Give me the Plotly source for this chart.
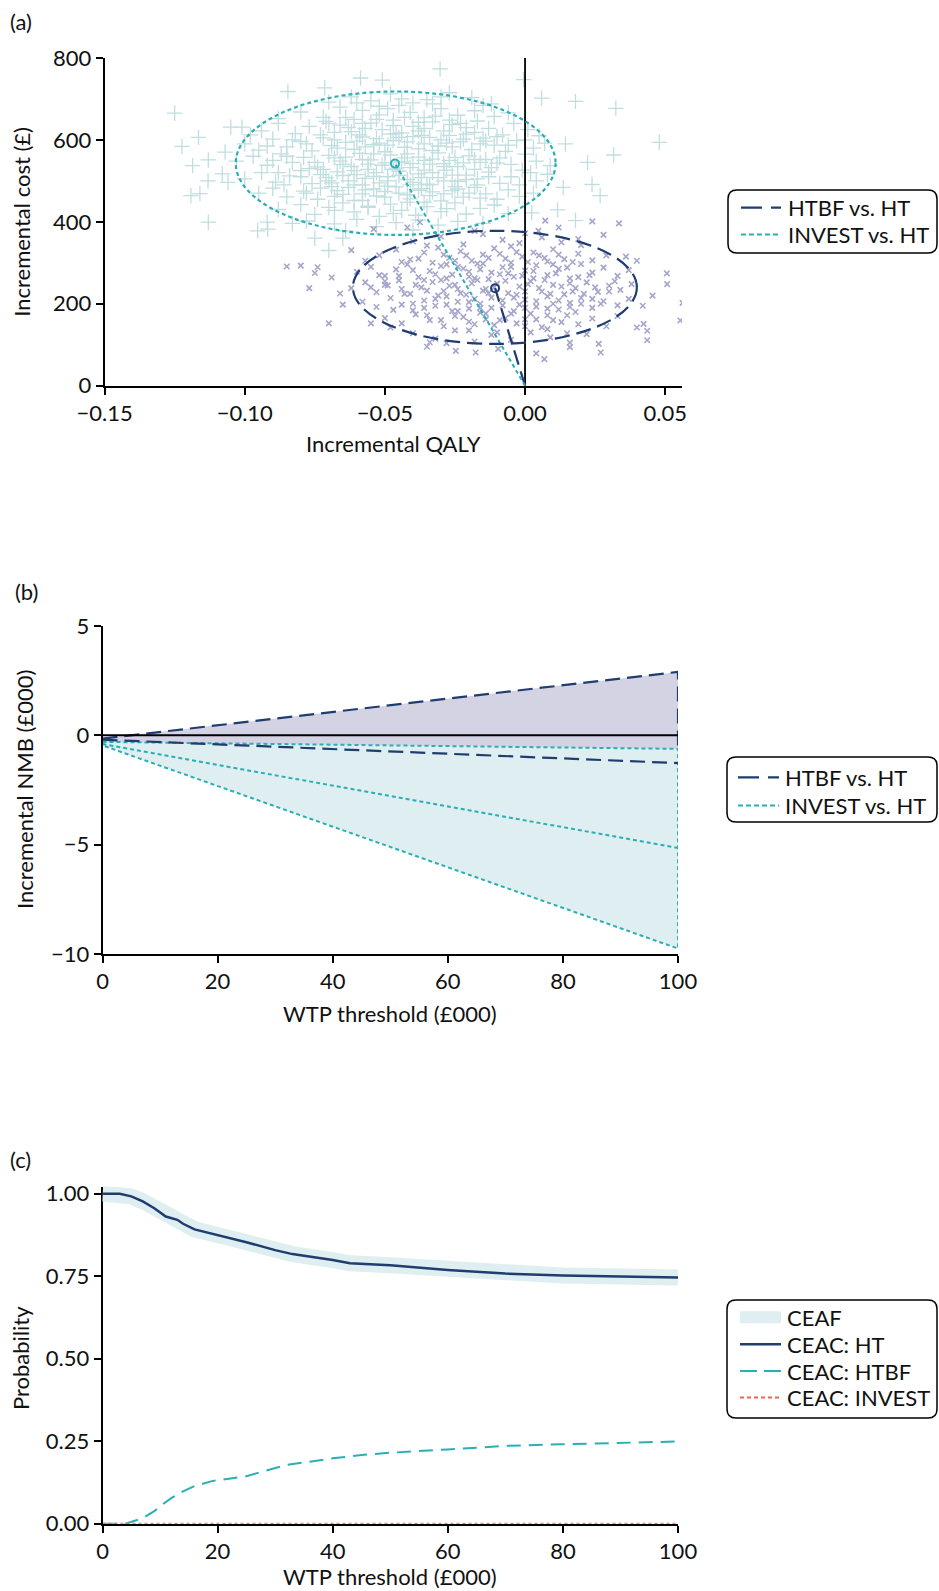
import plotly.graph_objects as go

W, H = 939, 1591
NAVY = "#1f3d6f"
TEAL = "#2aafb4"
LAV_PT = "#a6a6cc"
TEAL_PT = "#c0dee0"
LAV_FILL = "#d4d3e3"
TEAL_FILL = "#dfeef0"
RED = "#ec6552"
FONT = "Lato"

# ---------------- Panel (a) data: cost-effectiveness plane ----------------
invest_q = [-0.125,-0.1224,-0.1165,-0.1186,-0.1192,-0.116,-0.113,-0.113,-0.1131,-0.108,-0.106,-0.107,-0.105,-0.101,-0.0954,-0.0918,-0.092,-0.0846,-0.0715,-0.0587,-0.0509,-0.0303,-0.0005,0.0059,0.018,0.0324,0.0479,0.0316,0.0223,0.0239,0.0268,0.0116,0.0024,0.018,0.0136,0.0144,-0.075,-0.070,-0.065,-0.083,
 -0.062,-0.048,-0.035,-0.027,-0.055,-0.040,-0.019,-0.070,-0.012,
 -0.080,-0.072,-0.066,-0.058,-0.052,-0.045,-0.041,-0.036,-0.030,-0.024,-0.018,-0.011,-0.006,-0.088,-0.061,-0.049,-0.033,-0.015,
 -0.094,-0.088,-0.082,-0.077,-0.071,-0.068,-0.063,-0.059,-0.055,-0.051,-0.047,-0.044,-0.040,-0.037,-0.033,-0.029,-0.026,-0.021,-0.017,-0.013,-0.008,-0.004,0.001,-0.098,-0.057,-0.036,-0.023,-0.066,-0.048,
 -0.100,-0.095,-0.090,-0.085,-0.080,-0.076,-0.072,-0.069,-0.064,-0.061,-0.058,-0.054,-0.050,-0.047,-0.043,-0.040,-0.036,-0.033,-0.030,-0.026,-0.023,-0.019,-0.015,-0.011,-0.007,-0.003,0.003,0.007,-0.052,-0.038,-0.028,-0.045,-0.060,-0.067,-0.016,
 -0.103,-0.097,-0.092,-0.087,-0.083,-0.079,-0.074,-0.070,-0.066,-0.062,-0.059,-0.055,-0.051,-0.048,-0.044,-0.041,-0.038,-0.034,-0.031,-0.027,-0.024,-0.020,-0.016,-0.012,-0.009,-0.005,0.000,0.004,0.009,-0.056,-0.046,-0.036,-0.029,-0.064,-0.018,-0.042,
 -0.100,-0.094,-0.089,-0.084,-0.080,-0.076,-0.071,-0.067,-0.063,-0.060,-0.056,-0.052,-0.049,-0.045,-0.042,-0.038,-0.035,-0.031,-0.028,-0.024,-0.021,-0.017,-0.013,-0.009,-0.005,-0.001,0.004,0.008,-0.054,-0.040,-0.026,-0.070,-0.058,
 -0.095,-0.090,-0.085,-0.079,-0.074,-0.069,-0.065,-0.061,-0.057,-0.053,-0.049,-0.045,-0.041,-0.037,-0.034,-0.030,-0.026,-0.022,-0.018,-0.014,-0.010,-0.006,-0.002,0.003,-0.050,-0.033,-0.067,
 -0.088,-0.080,-0.075,-0.070,-0.065,-0.061,-0.056,-0.052,-0.048,-0.044,-0.039,-0.035,-0.030,-0.025,-0.021,-0.016,-0.011,-0.006,-0.058,-0.042,
 -0.078,-0.068,-0.060,-0.053,-0.046,-0.038,-0.031,-0.024,-0.015,-0.064,-0.040,
 -0.083,-0.078,-0.073,-0.068,-0.062,-0.057,-0.053,-0.049,-0.046,-0.042,-0.038,-0.034,-0.031,-0.027,-0.022,-0.018,-0.014,-0.010,-0.006,
 -0.075,-0.072,-0.068,-0.065,-0.061,-0.058,-0.054,-0.050,-0.047,-0.043,-0.040,-0.036,-0.033,-0.029,-0.025,-0.022,-0.018,-0.014,-0.010,
 -0.080,-0.077,-0.073,-0.069,-0.065,-0.061,-0.057,-0.053,-0.049,-0.045,-0.041,-0.037,-0.033,-0.029,-0.025,-0.021,-0.017,-0.013,
 -0.078,-0.073,-0.068,-0.063,-0.058,-0.054,-0.050,-0.046,-0.042,-0.038,-0.034,-0.029,-0.024,-0.020,-0.016,
 -0.070,-0.064,-0.058,-0.053,-0.047,-0.043,-0.038,-0.032,-0.027,-0.021,
 -0.085,-0.090,-0.088,-0.092,-0.086,0.000,0.002,-0.002,0.005,-0.056,-0.047,-0.036,-0.028,-0.068,-0.060,-0.044,-0.030,-0.052]
invest_c = [665,584,606,537,464,469,399,551,500,517,496,570,631,631,378,382,399,718,727,751,746,773,747,702,694,677,594,563,545,491,464,429,422,403,484,590,360,330,360,396,
 705,712,698,715,695,690,703,692,688,
 668,655,680,672,661,684,667,654,676,660,671,657,666,652,650,676,688,684,
 622,640,615,633,645,618,630,612,641,625,648,617,633,611,644,622,637,614,646,628,612,640,625,612,628,628,640,636,614,
 590,575,602,583,596,573,605,586,594,577,607,588,571,598,582,608,590,574,600,583,595,576,604,587,572,598,580,592,592,578,592,606,597,580,590,
 548,560,538,566,545,557,534,562,548,535,567,551,538,563,546,532,558,541,568,550,535,561,545,532,556,540,565,548,537,541,531,550,542,558,552,566,
 505,520,497,512,525,493,508,522,500,515,528,495,510,524,503,517,492,508,526,499,514,505,521,494,510,526,500,516,511,496,514,500,490,
 470,482,461,475,455,486,467,452,478,463,487,470,456,481,464,451,476,460,484,468,455,478,462,470,460,473,476,
 430,442,418,435,446,424,438,413,443,428,416,437,425,446,419,433,441,420,452,448,
 402,395,406,388,398,404,392,401,396,378,380,
 600,590,612,600,620,583,603,587,615,595,622,606,585,611,602,618,597,608,587,
 545,528,556,540,525,552,566,544,528,556,542,526,553,535,557,544,528,552,543,
 510,530,515,495,513,490,506,520,500,513,490,508,520,500,486,503,490,510,
 470,482,462,484,468,480,474,485,466,477,490,468,480,470,458,
 640,655,640,650,635,655,643,658,648,630,
 560,550,520,585,490,600,520,490,610,435,420,448,432,428,690,700,705,682]

htbf_q = [-0.085,-0.080,-0.077,-0.075,-0.074,-0.070,-0.069,-0.065,-0.066,-0.062,-0.055,-0.050,-0.048,-0.035,-0.034,-0.0247,-0.0176,-0.0096,0.004,0.0069,0.016,0.027,0.0263,0.0399,0.0423,0.0436,0.0436,0.0455,0.042,0.0506,0.0507,0.0562,0.0554,0.0399,0.036,0.0335,0.024,0.028,0.019,0.012,0.0072,0.0048,-0.0375,-0.042,-0.054,
 -0.040,-0.030,-0.022,-0.015,-0.008,-0.002,0.006,0.013,-0.035,0.020,-0.018,0.000,
 -0.052,-0.046,-0.041,-0.036,-0.031,-0.027,-0.023,-0.019,-0.015,-0.011,-0.007,-0.003,0.001,0.005,0.010,0.014,0.019,0.024,0.029,-0.057,-0.044,-0.005,0.008,
 -0.060,-0.055,-0.050,-0.046,-0.042,-0.038,-0.034,-0.030,-0.026,-0.022,-0.018,-0.015,-0.012,-0.008,-0.004,0.000,0.004,0.008,0.012,0.016,0.020,0.024,0.028,0.033,0.037,-0.020,-0.006,0.003,-0.028,0.010,
 -0.062,-0.057,-0.053,-0.049,-0.045,-0.041,-0.037,-0.033,-0.029,-0.025,-0.021,-0.017,-0.014,-0.010,-0.006,-0.002,0.002,0.006,0.010,0.014,0.018,0.022,0.026,0.030,0.034,0.038,-0.024,-0.013,0.000,0.016,-0.044,-0.030,
 -0.058,-0.053,-0.048,-0.044,-0.040,-0.036,-0.032,-0.028,-0.024,-0.020,-0.016,-0.012,-0.008,-0.004,0.000,0.004,0.008,0.012,0.016,0.020,0.024,0.028,0.033,0.037,-0.018,-0.002,0.010,
 -0.050,-0.044,-0.039,-0.034,-0.029,-0.025,-0.020,-0.016,-0.011,-0.007,-0.003,0.002,0.006,0.010,0.015,0.019,0.024,0.029,0.033,-0.014,0.000,
 -0.040,-0.032,-0.025,-0.018,-0.012,-0.005,0.002,0.009,0.016,0.022,0.008,-0.028,
 -0.045,-0.040,-0.036,-0.032,-0.028,-0.024,-0.020,-0.016,-0.013,-0.009,-0.005,-0.001,0.003,0.007,0.011,0.015,0.019,0.023,
 -0.043,-0.039,-0.035,-0.031,-0.027,-0.023,-0.019,-0.015,-0.011,-0.007,-0.003,0.001,0.005,0.009,0.013,0.017,0.021,0.025,
 -0.040,-0.036,-0.032,-0.028,-0.024,-0.020,-0.016,-0.012,-0.008,-0.004,0.000,0.004,0.008,0.012,0.016,0.020,0.024,
 -0.035,-0.030,-0.026,-0.022,-0.018,-0.014,-0.009,-0.005,0.000,0.004,0.008,0.013,0.018,
 -0.038,-0.033,-0.029,-0.025,-0.021,-0.017,-0.013,-0.009,-0.005,-0.001,0.003,0.007,0.012,0.017,
 -0.050,-0.055,-0.052,0.030,0.032,0.027,-0.047,-0.010,0.015,-0.020]
htbf_c = [291,293,238,275,289,152,264,198,225,331,152,246,142,95,106,85,81,90,79,65,94,81,102,142,151,134,111,220,195,274,248,202,159,305,315,396,401,368,358,386,403,378,399,386,382,
 352,364,345,370,356,348,362,350,342,343,378,372,
 318,332,308,325,337,312,328,305,320,335,310,326,302,318,333,309,322,306,318,305,302,340,303,
 278,290,268,284,296,265,280,292,271,286,262,298,276,289,266,281,294,270,285,262,297,276,288,268,282,278,274,262,296,296,
 238,252,228,245,257,224,240,253,231,246,222,258,236,249,226,242,255,230,246,223,238,252,229,244,234,248,236,226,230,250,236,258,
 205,192,214,198,184,208,195,218,182,204,190,215,196,182,210,193,218,186,202,214,190,206,196,212,212,198,200,
 165,152,174,160,145,170,156,178,148,165,152,176,143,160,172,150,164,145,170,162,162,
 128,115,135,108,124,112,130,118,105,126,138,104,
 268,282,258,272,262,290,266,284,260,272,290,268,280,258,274,288,265,270,
 224,246,232,220,244,226,250,232,240,256,222,248,238,224,242,230,224,240,
 200,190,212,198,205,188,200,190,208,215,190,206,188,208,192,200,212,
 172,160,182,168,150,176,160,176,145,162,172,155,180,
 310,300,320,305,318,298,312,322,300,315,325,312,320,302,
 255,240,270,230,255,200,185,130,128,135]

# means and 95% ellipses (QALY, cost)
invest_mean = (-0.0464, 542)
htbf_mean = (-0.0107, 238)
invest_ellipse = (-0.1032, 0.0109, 368, 718)   # x0, x1, y0, y1
htbf_ellipse = (-0.0614, 0.0399, 102, 378)

# ---------------- Panel (b) data: incremental NMB ----------------
wtp_b = [0, 100]
htbf_nmb_upper = [-0.15, 2.9]
htbf_nmb_lower = [-0.35, -5.0]
htbf_nmb_mean = [-0.2, -1.27]
invest_nmb_upper = [-0.3, -0.62]
invest_nmb_lower = [-0.46, -9.75]
invest_nmb_mean = [-0.4, -5.15]

# ---------------- Panel (c) data: CEAC / CEAF ----------------
wtp_c = [0, 3, 5, 7, 9, 10, 11, 13, 14, 16, 20, 25, 30, 33, 40, 43, 50, 60, 70, 80, 90, 100]
ceac_ht = [1.0, 1.0, 0.992, 0.977, 0.956, 0.943, 0.931, 0.921, 0.909, 0.892, 0.875, 0.853, 0.829, 0.817, 0.799, 0.789, 0.783, 0.769, 0.758, 0.752, 0.749, 0.746]
ceaf = [1.0, 1.0, 0.992, 0.977, 0.956, 0.943, 0.931, 0.921, 0.909, 0.892, 0.875, 0.853, 0.829, 0.817, 0.799, 0.789, 0.783, 0.769, 0.758, 0.752, 0.749, 0.746]
wtp_htbf = [0, 4, 7, 9, 10, 12, 14, 16, 19, 22, 25, 28, 32, 36, 40, 45, 50, 60, 70, 80, 90, 100]
ceac_htbf = [0.0, 0.0, 0.017, 0.038, 0.053, 0.078, 0.098, 0.114, 0.129, 0.136, 0.144, 0.159, 0.178, 0.188, 0.198, 0.208, 0.215, 0.225, 0.236, 0.241, 0.244, 0.249]
wtp_invest = [0, 100]
ceac_invest = [0.0, 0.0]

legend_a_labels = ["HTBF vs. HT", "INVEST vs. HT"]
legend_b_labels = ["HTBF vs. HT", "INVEST vs. HT"]
legend_c_labels = ["CEAF", "CEAC: HT", "CEAC: HTBF", "CEAC: INVEST"]


def px_x(p):
    return p / W


def px_y(p):
    return 1 - p / H


DASH_LONG = "15px,7px"
DASH_DOT = "4px,3px"

fig = go.Figure()

# ---- Panel (a)
fig.add_trace(go.Scatter(x=invest_q, y=invest_c, mode="markers", xaxis="x", yaxis="y",
                         marker=dict(symbol="cross-thin", size=11, line=dict(color=TEAL_PT, width=1.3)),
                         showlegend=False, hoverinfo="skip"))
fig.add_trace(go.Scatter(x=htbf_q, y=htbf_c, mode="markers", xaxis="x", yaxis="y",
                         marker=dict(symbol="x-thin", size=5.5, line=dict(color=LAV_PT, width=1.6)),
                         showlegend=False, hoverinfo="skip"))
fig.add_trace(go.Scatter(x=[0, 0], y=[0, 800], mode="lines", xaxis="x", yaxis="y",
                         line=dict(color="black", width=1.8), showlegend=False, hoverinfo="skip"))
fig.add_trace(go.Scatter(x=[0, htbf_mean[0]], y=[0, htbf_mean[1]], mode="lines", xaxis="x", yaxis="y",
                         line=dict(color=NAVY, width=2.2, dash=DASH_LONG), showlegend=False, hoverinfo="skip"))
fig.add_trace(go.Scatter(x=[0, invest_mean[0]], y=[0, invest_mean[1]], mode="lines", xaxis="x", yaxis="y",
                         line=dict(color=TEAL, width=2, dash=DASH_DOT), showlegend=False, hoverinfo="skip"))
fig.add_trace(go.Scatter(x=[htbf_mean[0], invest_mean[0]], y=[htbf_mean[1], invest_mean[1]], mode="markers",
                         xaxis="x", yaxis="y",
                         marker=dict(symbol="circle-open", size=8, color=[NAVY, TEAL], line=dict(width=2)),
                         showlegend=False, hoverinfo="skip"))

shapes = []
for (x0, x1, y0, y1), col, dash in [(invest_ellipse, TEAL, DASH_DOT), (htbf_ellipse, NAVY, DASH_LONG)]:
    shapes.append(dict(type="circle", xref="x", yref="y", x0=x0, x1=x1, y0=y0, y1=y1,
                       line=dict(color=col, width=2.2, dash=dash), layer="above"))

# ---- Panel (b)
fig.add_trace(go.Scatter(x=wtp_b + wtp_b[::-1], y=htbf_nmb_upper + htbf_nmb_lower[::-1],
                         mode="lines", fill="toself", fillcolor=LAV_FILL, xaxis="x2", yaxis="y2",
                         line=dict(color=NAVY, width=2.2, dash=DASH_LONG), showlegend=False, hoverinfo="skip"))
fig.add_trace(go.Scatter(x=wtp_b + wtp_b[::-1], y=invest_nmb_upper + invest_nmb_lower[::-1],
                         mode="lines", fill="toself", fillcolor=TEAL_FILL, xaxis="x2", yaxis="y2",
                         line=dict(color=TEAL, width=2, dash=DASH_DOT), showlegend=False, hoverinfo="skip"))
fig.add_trace(go.Scatter(x=[0, 100], y=[0, 0], mode="lines", xaxis="x2", yaxis="y2",
                         line=dict(color="black", width=2), showlegend=False, hoverinfo="skip"))
fig.add_trace(go.Scatter(x=wtp_b, y=htbf_nmb_mean, mode="lines", xaxis="x2", yaxis="y2",
                         line=dict(color=NAVY, width=2.2, dash=DASH_LONG), showlegend=False, hoverinfo="skip"))
fig.add_trace(go.Scatter(x=wtp_b, y=invest_nmb_mean, mode="lines", xaxis="x2", yaxis="y2",
                         line=dict(color=TEAL, width=2, dash=DASH_DOT), showlegend=False, hoverinfo="skip"))

# ---- Panel (c)
fig.add_trace(go.Scatter(x=wtp_c, y=ceaf, mode="lines", xaxis="x3", yaxis="y3",
                         line=dict(color=TEAL_FILL, width=16), showlegend=False, hoverinfo="skip"))
fig.add_trace(go.Scatter(x=wtp_c, y=ceac_ht, mode="lines", xaxis="x3", yaxis="y3",
                         line=dict(color=NAVY, width=2.5), showlegend=False, hoverinfo="skip"))
fig.add_trace(go.Scatter(x=wtp_htbf, y=ceac_htbf, mode="lines", xaxis="x3", yaxis="y3",
                         line=dict(color=TEAL, width=2, dash="14px,8px"), showlegend=False, hoverinfo="skip"))
fig.add_trace(go.Scatter(x=wtp_invest, y=ceac_invest, mode="lines", xaxis="x3", yaxis="y3",
                         line=dict(color=RED, width=2, dash="3px,3px"), showlegend=False, hoverinfo="skip"))

TICKSIZE = 22
axis_common = dict(showline=True, linecolor="black", linewidth=1.8, ticks="outside", ticklen=7,
                   tickwidth=1.8, tickcolor="black", showgrid=False, zeroline=False,
                   tickfont=dict(family=FONT, size=TICKSIZE, color="#111"))

fig.update_layout(
    width=W, height=H, margin=dict(l=0, r=0, t=0, b=0, autoexpand=False),
    paper_bgcolor="white", plot_bgcolor="white", showlegend=False,
    font=dict(family=FONT, size=22, color="#111"),
    xaxis=dict(domain=[px_x(104.6), px_x(682)], range=[-0.15, 0.056],
               tickvals=[-0.15, -0.10, -0.05, 0.0, 0.05], tickformat=".2f", anchor="y", **axis_common),
    yaxis=dict(domain=[px_y(385.7), px_y(57.9)], range=[0, 800], tickvals=[0, 200, 400, 600, 800],
               anchor="x", **axis_common),
    xaxis2=dict(domain=[px_x(102.5), px_x(678)], range=[0, 100], tickvals=[0, 20, 40, 60, 80, 100],
                anchor="y2", **axis_common),
    yaxis2=dict(domain=[px_y(954), px_y(626)], range=[-10, 5], tickvals=[-10, -5, 0, 5],
                anchor="x2", **axis_common),
    xaxis3=dict(domain=[px_x(102.5), px_x(678)], range=[0, 100], tickvals=[0, 20, 40, 60, 80, 100],
                anchor="y3", layer="below traces", **axis_common),
    yaxis3=dict(domain=[px_y(1523.7), px_y(1186.5)], range=[0, 1.0 + 7.2 / 328.9],
                tickvals=[0, 0.25, 0.5, 0.75, 1.0], tickformat=".2f", anchor="x3", layer="below traces",
                **axis_common),
)


def rounded_box(x0, y0, x1, y1, r=9):
    rx, ry = r / W, r / H
    X0, X1 = px_x(x0), px_x(x1)
    Y0, Y1 = px_y(y0), px_y(y1)  # Y0 top, Y1 bottom
    return (f"M {X0+rx},{Y0} L {X1-rx},{Y0} Q {X1},{Y0} {X1},{Y0-ry} "
            f"L {X1},{Y1+ry} Q {X1},{Y1} {X1-rx},{Y1} L {X0+rx},{Y1} Q {X0},{Y1} {X0},{Y1+ry} "
            f"L {X0},{Y0-ry} Q {X0},{Y0} {X0+rx},{Y0} Z")


for box in [(728, 190, 937, 253), (727, 757, 937, 822), (727, 1300, 937, 1418)]:
    shapes.append(dict(type="path", xref="paper", yref="paper", path=rounded_box(*box),
                       line=dict(color="black", width=1.5), layer="above"))

ann = []
def text(x, y, s, size=22, angle=0, xanchor="center"):
    ann.append(dict(x=px_x(x), y=px_y(y), xref="paper", yref="paper", text=s, showarrow=False,
                    textangle=angle, xanchor=xanchor, yanchor="middle",
                    font=dict(family=FONT, size=size, color="#111")))


# ---- manual legends (sample line + label)
def legend_line(x0, x1, y, color, width, dash):
    shapes.append(dict(type="line", xref="paper", yref="paper", x0=px_x(x0), x1=px_x(x1),
                       y0=px_y(y), y1=px_y(y), line=dict(color=color, width=width, dash=dash)))


leg_a_rows = [207.7, 234.5]
legend_line(741, 781, leg_a_rows[0], NAVY, 2.2, "21px,9px")
legend_line(741, 781, leg_a_rows[1], TEAL, 2, "5px,3px")
for lab, yy in zip(legend_a_labels, leg_a_rows):
    text(786, yy, lab, 22, xanchor="left")

leg_b_rows = [777.3, 805.5]
legend_line(738, 779, leg_b_rows[0], NAVY, 2.2, "21px,9px")
legend_line(738, 779, leg_b_rows[1], TEAL, 2, "5px,3px")
for lab, yy in zip(legend_b_labels, leg_b_rows):
    text(783, yy, lab, 22, xanchor="left")

leg_c_rows = [1317.3, 1344.2, 1371, 1397.5]
shapes.append(dict(type="rect", xref="paper", yref="paper", x0=px_x(740), x1=px_x(781),
                   y0=px_y(leg_c_rows[0] - 6), y1=px_y(leg_c_rows[0] + 6),
                   fillcolor=TEAL_FILL, line=dict(width=0)))
legend_line(740, 781, leg_c_rows[1], NAVY, 2.5, "solid")
legend_line(740, 781, leg_c_rows[2], TEAL, 2, "17px,7px")
legend_line(740, 781, leg_c_rows[3], RED, 2, "4px,3px")
for lab, yy in zip(legend_c_labels, leg_c_rows):
    text(785, yy, lab, 22, xanchor="left")

fig.update_layout(shapes=shapes)

text(8, 22, "(a)", 22, xanchor="left")
text(13, 591, "(b)", 22, xanchor="left")
text(8, 1159, "(c)", 22, xanchor="left")
text(393, 443.6, "Incremental QALY")
text(22, 221.8, "Incremental cost (£)", angle=-90)
text(390, 1013, "WTP threshold (£000)")
text(25, 790, "Incremental NMB (£000)", angle=-90)
text(390, 1576, "WTP threshold (£000)")
text(20, 1358, "Probability", angle=-90)
fig.update_layout(annotations=ann)

fig.write_html("out.html")
